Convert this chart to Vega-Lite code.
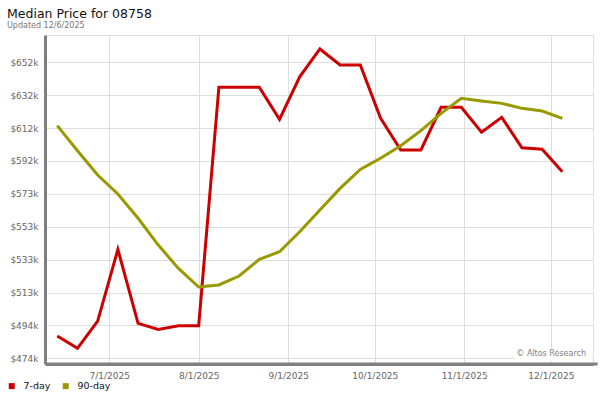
{
  "$schema": "https://vega.github.io/schema/vega-lite/v6.json",
  "width": 548,
  "height": 329,
  "autosize": {"type": "none"},
  "padding": {"left": 45, "top": 35, "right": 7, "bottom": 36},
  "background": "white",
  "title": {
    "text": "Median Price for 08758",
    "subtitle": "Updated 12/6/2025",
    "anchor": "start",
    "frame": "group",
    "dx": -38,
    "offset": 5,
    "font": "DejaVu Sans",
    "fontSize": 12.5,
    "fontWeight": "normal",
    "color": "#111111",
    "subtitleFont": "DejaVu Sans",
    "subtitleFontSize": 8,
    "subtitleColor": "#777777",
    "subtitlePadding": 2
  },
  "config": {
    "font": "DejaVu Sans",
    "view": {"stroke": "#dddddd"},
    "axis": {
      "gridColor": "#dddddd",
      "gridWidth": 1,
      "ticks": false,
      "domainColor": "#808080",
      "domainWidth": 3,
      "labelColor": "#666666",
      "labelFont": "DejaVu Sans",
      "labelFontSize": 9,
      "labelPadding": 7,
      "labelOverlap": false,
      "title": null
    }
  },
  "layer": [
    {
      "data": {"values": [{}]},
      "mark": {"type": "rule", "stroke": "#808080", "strokeWidth": 3},
      "encoding": {
        "x": {"datum": {"year": 2025, "month": 6, "date": 9, "utc": true}, "type": "temporal"},
        "x2": {"datum": {"year": 2025, "month": 12, "date": 17, "hours": 6, "utc": true}},
        "y": {"datum": 470600, "type": "quantitative"}
      }
    },
    {
      "data": {
        "values": [
          {"date": "2025-06-13", "series": "7-day", "price": 487400},
          {"date": "2025-06-20", "series": "7-day", "price": 480000},
          {"date": "2025-06-27", "series": "7-day", "price": 496400},
          {"date": "2025-07-04", "series": "7-day", "price": 539500},
          {"date": "2025-07-11", "series": "7-day", "price": 495000},
          {"date": "2025-07-18", "series": "7-day", "price": 491400},
          {"date": "2025-07-25", "series": "7-day", "price": 493600},
          {"date": "2025-08-01", "series": "7-day", "price": 493600},
          {"date": "2025-08-08", "series": "7-day", "price": 637000},
          {"date": "2025-08-15", "series": "7-day", "price": 637000},
          {"date": "2025-08-22", "series": "7-day", "price": 637000},
          {"date": "2025-08-29", "series": "7-day", "price": 617700},
          {"date": "2025-09-05", "series": "7-day", "price": 643300},
          {"date": "2025-09-12", "series": "7-day", "price": 660000},
          {"date": "2025-09-19", "series": "7-day", "price": 650400},
          {"date": "2025-09-26", "series": "7-day", "price": 650400},
          {"date": "2025-10-03", "series": "7-day", "price": 618500},
          {"date": "2025-10-10", "series": "7-day", "price": 599300},
          {"date": "2025-10-17", "series": "7-day", "price": 599300},
          {"date": "2025-10-24", "series": "7-day", "price": 624900},
          {"date": "2025-10-31", "series": "7-day", "price": 624900},
          {"date": "2025-11-07", "series": "7-day", "price": 609900},
          {"date": "2025-11-14", "series": "7-day", "price": 618900},
          {"date": "2025-11-21", "series": "7-day", "price": 600600},
          {"date": "2025-11-28", "series": "7-day", "price": 599700},
          {"date": "2025-12-05", "series": "7-day", "price": 586200},
          {"date": "2025-06-13", "series": "90-day", "price": 613900},
          {"date": "2025-06-20", "series": "90-day", "price": 598800},
          {"date": "2025-06-27", "series": "90-day", "price": 584200},
          {"date": "2025-07-04", "series": "90-day", "price": 572800},
          {"date": "2025-07-11", "series": "90-day", "price": 558200},
          {"date": "2025-07-18", "series": "90-day", "price": 542100},
          {"date": "2025-07-25", "series": "90-day", "price": 528100},
          {"date": "2025-08-01", "series": "90-day", "price": 516900},
          {"date": "2025-08-08", "series": "90-day", "price": 518100},
          {"date": "2025-08-15", "series": "90-day", "price": 523500},
          {"date": "2025-08-22", "series": "90-day", "price": 533500},
          {"date": "2025-08-29", "series": "90-day", "price": 538100},
          {"date": "2025-09-05", "series": "90-day", "price": 550100},
          {"date": "2025-09-12", "series": "90-day", "price": 563200},
          {"date": "2025-09-19", "series": "90-day", "price": 576200},
          {"date": "2025-09-26", "series": "90-day", "price": 587600},
          {"date": "2025-10-03", "series": "90-day", "price": 594300},
          {"date": "2025-10-10", "series": "90-day", "price": 601800},
          {"date": "2025-10-17", "series": "90-day", "price": 610900},
          {"date": "2025-10-24", "series": "90-day", "price": 621300},
          {"date": "2025-10-31", "series": "90-day", "price": 630300},
          {"date": "2025-11-07", "series": "90-day", "price": 628700},
          {"date": "2025-11-14", "series": "90-day", "price": 627300},
          {"date": "2025-11-21", "series": "90-day", "price": 624300},
          {"date": "2025-11-28", "series": "90-day", "price": 622700},
          {"date": "2025-12-05", "series": "90-day", "price": 618300}
        ]
      },
      "mark": {"type": "line", "strokeWidth": 3, "strokeJoin": "miter"},
      "encoding": {
        "x": {
          "field": "date",
          "type": "temporal",
          "scale": {
            "type": "utc",
            "domain": [
              {"year": 2025, "month": 6, "date": 8, "hours": 18, "utc": true},
              {"year": 2025, "month": 12, "date": 15, "hours": 15, "utc": true}
            ]
          },
          "axis": {
            "labelExpr": "utcFormat(datum.value, '%-m/%-d/%Y')",
            "values": [
              {"year": 2025, "month": 7, "date": 1, "utc": true},
              {"year": 2025, "month": 8, "date": 1, "utc": true},
              {"year": 2025, "month": 9, "date": 1, "utc": true},
              {"year": 2025, "month": 10, "date": 1, "utc": true},
              {"year": 2025, "month": 11, "date": 1, "utc": true},
              {"year": 2025, "month": 12, "date": 1, "utc": true}
            ],
            "tickCount": 20,
            "grid": true
          }
        },
        "y": {
          "field": "price",
          "type": "quantitative",
          "scale": {"domain": [470600, 668400], "nice": false, "zero": false},
          "axis": {
            "values": [474000, 493778, 513556, 533333, 553111, 572889, 592667, 612444, 632222, 652000],
            "tickCount": 20,
            "labelExpr": "['$474k','$494k','$513k','$533k','$553k','$573k','$592k','$612k','$632k','$652k'][round((datum.value-474000)/19778)]",
            "grid": true
          }
        },
        "color": {
          "field": "series",
          "type": "nominal",
          "scale": {"domain": ["7-day", "90-day"], "range": ["#cc0000", "#999900"]},
          "legend": {
            "orient": "none",
            "legendX": -38,
            "legendY": 346,
            "direction": "horizontal",
            "title": null,
            "symbolType": "square",
            "symbolSize": 36,
            "symbolStrokeWidth": 0,
            "labelFontSize": 9.5,
            "labelColor": "#111111",
            "labelFont": "DejaVu Sans",
            "labelOffset": 7,
            "columnPadding": 10,
            "padding": 0,
            "encode": {
              "symbols": {"update": {"fill": {"scale": "color", "field": "value"}, "strokeWidth": {"value": 0}}}
            }
          }
        }
      }
    },
    {
      "data": {"values": [{}]},
      "mark": {"type": "rect", "fill": "white"},
      "encoding": {
        "x": {"datum": {"year": 2025, "month": 11, "date": 18, "hours": 14, "utc": true}, "type": "temporal"},
        "x2": {"datum": {"year": 2025, "month": 12, "date": 15, "hours": 8, "utc": true}},
        "y": {"datum": 472400, "type": "quantitative"},
        "y2": {"datum": 480200}
      }
    },
    {
      "data": {"values": [{}]},
      "mark": {"type": "text", "text": "© Altos Research", "align": "right", "baseline": "alphabetic", "fontSize": 8, "color": "#808080", "font": "DejaVu Sans"},
      "encoding": {
        "x": {"datum": {"year": 2025, "month": 12, "date": 13, "hours": 5, "utc": true}, "type": "temporal"},
        "y": {"datum": 475400, "type": "quantitative"}
      }
    }
  ]
}
